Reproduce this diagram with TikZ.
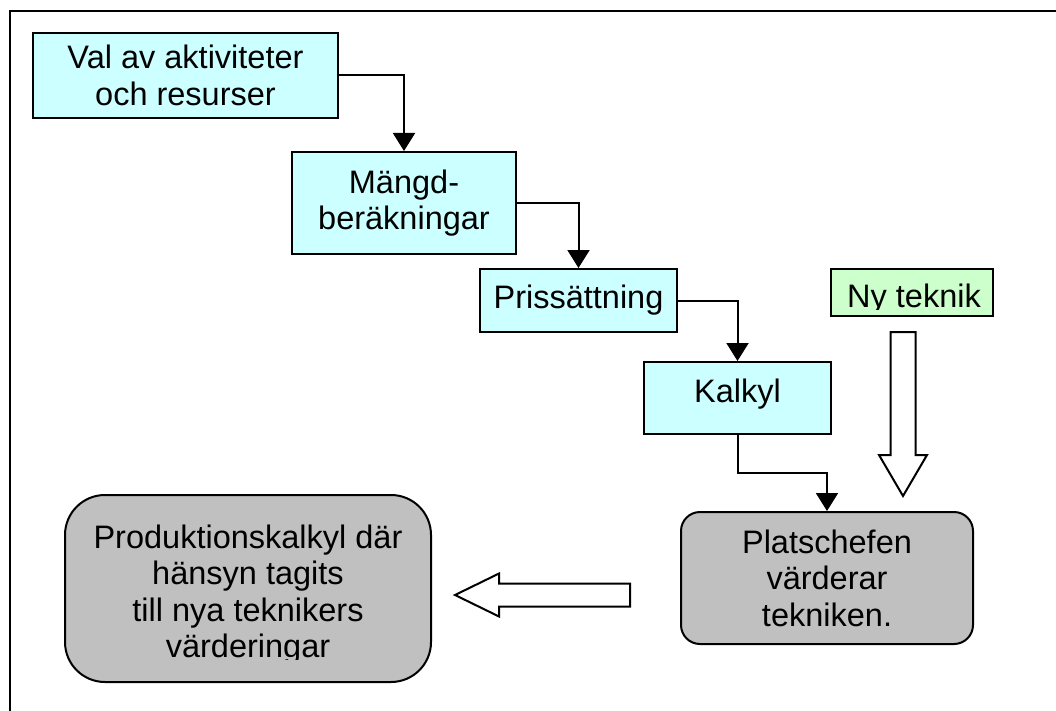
\documentclass[tikz,border=0pt]{standalone}
\usepackage{fontspec}
\setmainfont{Liberation Sans}
\usetikzlibrary{arrows.meta,calc}
\definecolor{boxcyan}{HTML}{CCFFFF}
\definecolor{boxgreen}{HTML}{CCFFCC}
\definecolor{boxgray}{HTML}{C0C0C0}
\begin{document}
\begin{tikzpicture}[x=1pt,y=-1pt,
  every node/.style={font=\fontsize{32.5}{36.5}\selectfont, align=center, inner sep=0pt},
  stepbox/.style={draw, fill=boxcyan, line width=2pt, rectangle},
  techbox/.style={draw, fill=boxgreen, line width=2pt, rectangle},
  judgebox/.style={draw, fill=boxgray, line width=2pt, rectangle},
  flow/.style={line width=2pt, -{Triangle[length=18pt,width=22pt]}},
  blockarrow/.style={draw, fill=white, line width=2pt, line join=miter}
]
\useasboundingbox (0,0) rectangle (1056,711);

% outer frame, running off the right and bottom edges
\begin{scope}
  \clip (0,0) rectangle (1056,711);
  \draw[line width=2.5pt] (10,11) rectangle (1100,760);
\end{scope}

% calculation steps
\node[stepbox, minimum width=305pt, minimum height=85pt] (val) at (185.5,75.5) {Val av aktiviteter\\och resurser};
\node[stepbox, minimum width=224pt, minimum height=102pt] (mangd) at (404,203) {Mängd-\\beräkningar};
\node[stepbox, minimum width=197pt, minimum height=63pt] (pris) at (578.5,300.5) {Prissättning};
\node[stepbox, minimum width=187pt, minimum height=72pt, text height=16pt, text depth=8pt] (kalkyl) at (737.5,398) {Kalkyl};

% new technique input
\node[techbox, minimum width=162pt, minimum height=47pt] (ny) at (912,292.5) {};
\begin{scope}
  \clip (ny.north west) rectangle ($(ny.south east)+(0,-8)$);
  \node (nytext) at ($(ny)+(2,6.5)$) {Ny teknik};
\end{scope}

% site manager evaluation and resulting calculation
\node[judgebox, rounded corners=19pt, minimum width=292pt, minimum height=132pt] (plat) at (827,578) {Platschefen\\värderar\\tekniken.};
\node[judgebox, rounded corners=40pt, minimum width=366pt, minimum height=187pt] (prod) at (248,588.5) {};
\begin{scope}
  \clip (prod.north west) rectangle ($(prod.south east)+(0,-23.5)$);
  \node (prodtext) at ($(prod)+(0,6)$) {Produktionskalkyl där\\hänsyn tagits\\till nya teknikers\\värderingar};
\end{scope}

% elbow connectors between the steps
\draw[flow] (val.east) -| (mangd.north);
\draw[flow] (mangd.east) -| (pris.north);
\draw[flow] (pris.east) -| (kalkyl.north);
\draw[flow] (kalkyl.south) |- ($(kalkyl.south)!0.5!(plat.north)$) -| (plat.north);

% hollow block arrows
\draw[blockarrow] (890.5,332) -- (915.5,332) -- (915.5,455) -- (927,455) -- (903,496)
  -- (879,455) -- (890.5,455) -- cycle;
\draw[blockarrow] (630,583.5) -- (630,606.5) -- (499,606.5) -- (499,616.5) -- (455,595)
  -- (499,573.5) -- (499,583.5) -- cycle;
\end{tikzpicture}
\end{document}
